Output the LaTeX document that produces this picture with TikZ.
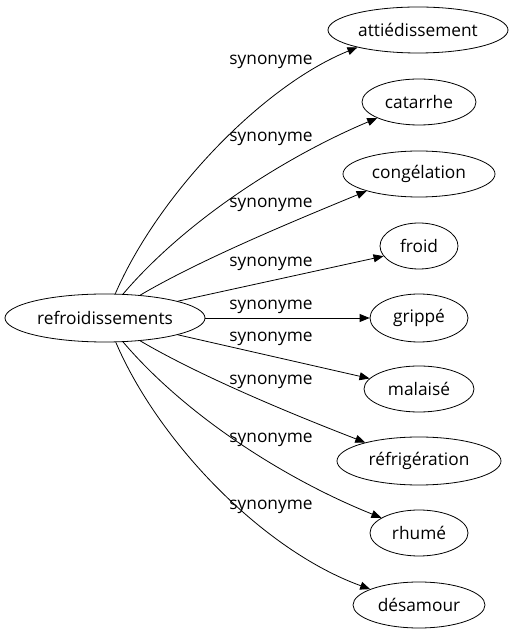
\documentclass[tikz,border=0pt]{standalone}
\usepackage{fontspec}
\setmainfont{Open Sans}
\usetikzlibrary{shapes.geometric,arrows.meta}

\begin{document}
\begin{tikzpicture}[x=1pt, y=1pt,
  word/.style={draw, ellipse, line width=0.8pt, inner sep=0pt, minimum height=46, font=\fontsize{17.3}{20}\selectfont},
  syn/.style={font=\fontsize{17.3}{20}\selectfont},
  rel/.style={line width=0.8pt, -{Triangle[length=10pt, width=8pt]}}]
\useasboundingbox (0,0) rectangle (514,635);
% words
\node [word, minimum width=200, minimum height=48] (refroid) at (105,317) {refroidissements};
\node [word, minimum width=180] (attied) at (418,605) {attiédissement};
\node [word, minimum width=114] (catarrhe) at (419,533) {catarrhe};
\node [word, minimum width=152] (congel) at (419,461) {congélation};
\node [word, minimum width=78] (froid) at (419,389) {froid};
\node [word, minimum width=98, minimum height=48] (grippe) at (419,317) {grippé};
\node [word, minimum width=110] (malaise) at (419,246) {malaisé};
\node [word, minimum width=164, minimum height=48] (refrig) at (419,174) {réfrigération};
\node [word, minimum width=98] (rhume) at (419,102) {rhumé};
\node [word, minimum width=132] (desamour) at (419,30) {désamour};
% edges
\draw [rel] (refroid.67) .. controls (158,440) and (262,549) .. (attied.196);
\draw [rel] (refroid.53) .. controls (187,416) and (287,479) .. (catarrhe.201);
\draw [rel] (refroid.33) .. controls (200,375) and (289,412) .. (congel.198);
\draw [rel] (refroid.13) -- (froid.196);
\draw [rel] (refroid.east) -- (grippe.west);
\draw [rel] (refroid.-13) -- (malaise.168);
\draw [rel] (refroid.-33) .. controls (200,259) and (289,222) .. (refrig.161);
\draw [rel] (refroid.-53) .. controls (187,218) and (287,155) .. (rhume.158);
\draw [rel] (refroid.-66) .. controls (158,194) and (262,85) .. (desamour.162);
% labels
\node [syn] (l1) at (271,573) {synonyme};
\node [syn] (l2) at (271,496) {synonyme};
\node [syn] (l3) at (271,430) {synonyme};
\node [syn] (l4) at (271,371) {synonyme};
\node [syn] (l5) at (271,328) {synonyme};
\node [syn] (l6) at (271,296) {synonyme};
\node [syn] (l7) at (271,253) {synonyme};
\node [syn] (l8) at (271,195) {synonyme};
\node [syn] (l9) at (271,128) {synonyme};
\end{tikzpicture}
\end{document}
